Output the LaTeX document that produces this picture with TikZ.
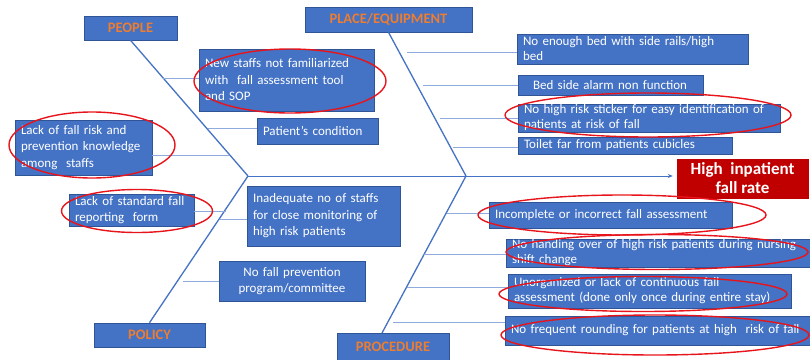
\documentclass[tikz,border=0pt]{standalone}
\usepackage{fontspec}
\setmainfont{Carlito}
\usetikzlibrary{arrows.meta,shapes.geometric}
\definecolor{boxblue}{HTML}{4472C4}
\definecolor{boxline}{HTML}{2F5597}
\definecolor{boneblue}{HTML}{4472C4}
\definecolor{twigblue}{HTML}{8FAADC}
\definecolor{headorange}{HTML}{ED7D31}
\definecolor{effectred}{HTML}{C00000}
\definecolor{ringred}{HTML}{E8141C}
\begin{document}
\begin{tikzpicture}[x=1pt,y=-1pt,
  box/.style={draw=boxline, line width=0.6pt, fill=boxblue, text=white,
    font=\fontsize{13}{16.5}\selectfont, align=left, inner xsep=6pt, inner ysep=0pt},
  tight/.style={font=\fontsize{13}{15}\selectfont},
  headbox/.style={draw=boxline, line width=0.6pt, fill=boxblue, text=headorange,
    font=\bfseries\fontsize{14.5}{16}\selectfont, align=center, inner sep=1pt},
  effectbox/.style={draw=effectred, fill=effectred, text=white,
    font=\bfseries\fontsize{17}{19}\selectfont, align=center, inner sep=0pt},
  bone/.style={draw=boneblue, line width=1.3pt},
  twig/.style={draw=twigblue, line width=0.8pt},
  ring/.style={ellipse, draw=ringred, line width=1.4pt, inner sep=0pt}]
\useasboundingbox[fill=white] (0,0) rectangle (810,359);

% heads
\node[headbox, minimum width=93pt, minimum height=24pt] (people) at (130.5,28) {PEOPLE};
\node[headbox, minimum width=167pt, minimum height=25pt] (place) at (388.5,19.5) {PLACE/EQUIPMENT};
\node[headbox, minimum width=111pt, minimum height=24pt] (policy) at (149.5,335) {POLICY};
\node[headbox, minimum width=112pt, minimum height=28pt] (procedure) at (393,347) {PROCEDURE};

% effect
\node[effectbox, minimum width=131pt, minimum height=39pt] (high) at (742.5,178.5) {High~ inpatient\\fall rate};

% cause boxes
\node[box, minimum width=175pt, minimum height=62pt, text width=163pt] (newstaff) at (286.5,80)
  {\mbox{New staffs not familiarized}\\\mbox{with~ fall assessment tool}\\and SOP};
\node[box, minimum width=121pt, minimum height=26pt, text width=109pt] (patient) at (317.5,131)
  {\mbox{Patient’s condition}};
\node[box, minimum width=137pt, minimum height=55pt, text width=125pt] (lackrisk) at (83.5,147.5)
  {\mbox{Lack of fall risk and}\\\mbox{prevention knowledge}\\\mbox{among~ staffs}};
\node[box, tight, minimum width=231pt, minimum height=30pt, text width=219pt] (bed) at (632.5,49)
  {\mbox{No enough bed with side rails/high}\\bed};
\node[box, minimum width=185pt, minimum height=20pt, text width=173pt] (alarm) at (610.5,85)
  {\mbox{\hspace*{9pt}Bed side alarm non function}};
\node[box, tight, minimum width=262pt, minimum height=28pt, text width=250pt] (sticker) at (649,118)
  {\mbox{No high risk sticker for easy identification of}\\\mbox{patients at risk of fall}};
\node[box, minimum width=214pt, minimum height=17pt, text width=202pt] (toilet) at (625,145.5)
  {\mbox{Toilet far from patients cubicles}};
\node[box, minimum width=125pt, minimum height=32pt, text width=113pt] (lackstd) at (131.5,210)
  {\mbox{Lack of standard fall}\\\mbox{reporting~ form}};
\node[box, minimum width=153pt, minimum height=60pt, text width=141pt] (inadequate) at (323.5,216)
  {\mbox{Inadequate no of staffs}\\\mbox{for close monitoring of}\\\mbox{high risk patients}};
\node[box, minimum width=146pt, minimum height=40pt, text width=134pt, align=center] (nofallprog) at (292,281)
  {No fall prevention\\program/committee};
\node[box, minimum width=243pt, minimum height=26pt, text width=231pt] (incomplete) at (610.5,215)
  {\mbox{Incomplete or incorrect fall assessment}};
\node[box, tight, minimum width=306pt, minimum height=28pt, text width=294pt] (handing) at (659,253)
  {\mbox{No handing over of high risk patients during nursing}\\\mbox{shift change}};
\node[box, minimum width=283pt, minimum height=34pt, text width=271pt, tight] (unorganized) at (649.5,291)
  {\mbox{Unorganized or lack of continuous fall}\\\mbox{assessment (done only once during entire stay)}};
\node[box, minimum width=307pt, minimum height=29pt, text width=295pt] (frequent) at (658.5,330.5)
  {\mbox{No frequent rounding for patients at high~ risk of fall}};

% spine and bones
\coordinate (s0) at (248,176);
\coordinate (s1) at (466,176);
\coordinate (pe) at (382,333);
\draw[bone, -{Stealth[length=5pt,width=4pt]}, line width=1pt, shorten >=4pt] (s0) -- (high.west |- s0);
\draw[bone] (people.south) -- (s0);
\draw[bone] (place.south) -- (s1);
\draw[bone] (s0) -- (policy.north);
\draw[bone] (s1) -- (pe);

% twigs: people
\coordinate (t1) at (163,78);
\coordinate (t2) at (208,128);
\coordinate (t3) at (229,155);
\draw[twig] (t1) -- (t1 -| newstaff.west);
\draw[twig] (t2) -- (t2 -| patient.west);
\draw[twig] (t3 -| lackrisk.east) -- (t3);
% twigs: place
\coordinate (u1) at (407,52);
\coordinate (u2) at (423,85);
\coordinate (u3) at (440,118);
\coordinate (u4) at (453,147);
\draw[twig] (u1) -- (u1 -| bed.west);
\draw[twig] (u2) -- (u2 -| alarm.west);
\draw[twig] (u3) -- (u3 -| sticker.west);
\draw[twig] (u4) -- (u4 -| toilet.west);
% twigs: policy
\coordinate (v1) at (226,211);
\coordinate (v2) at (220,219);
\coordinate (v3) at (183,281);
\draw[twig] (v1 -| lackstd.east) -- (v1);
\draw[twig] (v2) -- (v2 -| inadequate.west);
\draw[twig] (v3) -- (v3 -| nofallprog.west);
% twigs: procedure
\coordinate (w1) at (447,213);
\coordinate (w2) at (424,254);
\coordinate (w3) at (407,287);
\coordinate (w4) at (393,322);
\draw[twig] (w1) -- (w1 -| incomplete.west);
\draw[twig] (w2) -- (w2 -| handing.west);
\draw[twig] (w3) -- (w3 -| unorganized.west);
\draw[twig] (w4) -- (w4 -| frequent.west);

% red rings
\node[ring, minimum width=192pt, minimum height=64pt] (e1) at (290,81) {};
\node[ring, minimum width=166pt, minimum height=66pt] (e2) at (92,145) {};
\node[ring, minimum width=286pt, minimum height=44pt] (e3) at (648,115) {};
\node[ring, minimum width=151pt, minimum height=43pt] (e4) at (137,211) {};
\node[ring, minimum width=288pt, minimum height=40pt] (e5) at (622,215) {};
\node[ring, minimum width=302pt, minimum height=35pt] (e6) at (657,252) {};
\node[ring, minimum width=288pt, minimum height=35pt] (e7) at (643,294) {};
\node[ring, minimum width=308pt, minimum height=40pt] (e8) at (655,335) {};
\end{tikzpicture}
\end{document}
